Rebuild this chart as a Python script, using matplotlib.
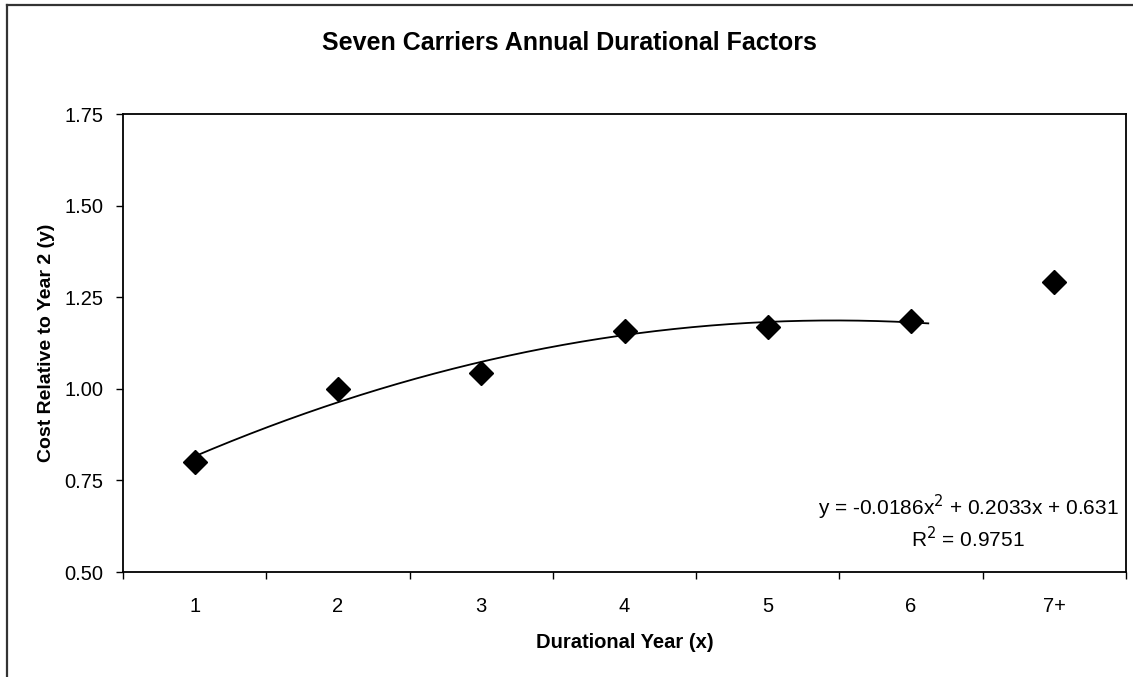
import numpy as np
from matplotlib import pyplot as plt
from matplotlib.lines import Line2D

plt.rcParams['font.family'] = ['Liberation Sans', 'DejaVu Sans']

# durational factors, cost relative to year 2
years = ["1", "2", "3", "4", "5", "6", "7+"]
factors = [0.80, 1.00, 1.043, 1.158, 1.169, 1.185, 1.291]

# polynomial trend (order 2) fitted on years 1-6
coef = [-0.0186, 0.2033, 0.631]
r_squared = 0.9751
trend_end = 6.12

W, H = 1133, 677
fig = plt.figure(figsize=(W / 100, H / 100), dpi=100)

# chart area border (runs off the right/bottom edge)
for xs, ys in [([7, 7], [5, H + 20]), ([7, W + 20], [5, 5])]:
    fig.add_artist(Line2D([x / W for x in xs], [1 - y / H for y in ys],
                          transform=fig.transFigure, color="#333333", lw=1.6))

ax = fig.add_axes([123 / W, 1 - 572 / H, (1126 - 123) / W, (572 - 114) / H])

xpos = np.arange(1, len(years) + 1)
ax.plot(xpos, factors, linestyle="none", marker="D", markersize=12,
        color="black", zorder=3)

xt = np.linspace(1, trend_end, 200)
ax.plot(xt, np.polyval(coef, xt), color="black", lw=1.3, zorder=2)

ax.set_xlim(0.5, len(years) + 0.5)
ax.set_ylim(0.5, 1.75)
yt = np.arange(0.5, 1.76, 0.25)
ax.set_yticks(yt)
ax.set_yticklabels([f"{v:.2f}" for v in yt])
ax.set_xticks(xpos)
ax.set_xticklabels(years)
ax.set_xticks(np.arange(0.5, len(years) + 1), minor=True)

ax.tick_params(axis="y", which="major", direction="out", length=5, width=1,
               pad=9, labelsize=14.5)
ax.tick_params(axis="x", which="major", length=0, pad=18, labelsize=14.5)
ax.tick_params(axis="x", which="minor", direction="out", length=5, width=1)

for s in ax.spines.values():
    s.set_linewidth(1.3)
    s.set_color("black")

ax.set_title("Seven Carriers Annual Durational Factors", fontsize=18,
             fontweight="bold", x=0.445, y=1.0, pad=46)
ax.set_xlabel("Durational Year (x)", fontsize=14.5, fontweight="bold",
              labelpad=12)
ax.set_ylabel("Cost Relative to Year 2 (y)", fontsize=14, fontweight="bold",
              labelpad=7)

eq = (f"y = {coef[0]:.4f}x$^2$ + {coef[1]:.4f}x + {coef[2]:.3f}\n"
      f"R$^2$ = {r_squared:.4f}")
ax.text(968, H - 522, eq, transform=None, fontsize=15, ha="center",
        va="center", linespacing=1.2)

fig.savefig("out.png", dpi=100)
